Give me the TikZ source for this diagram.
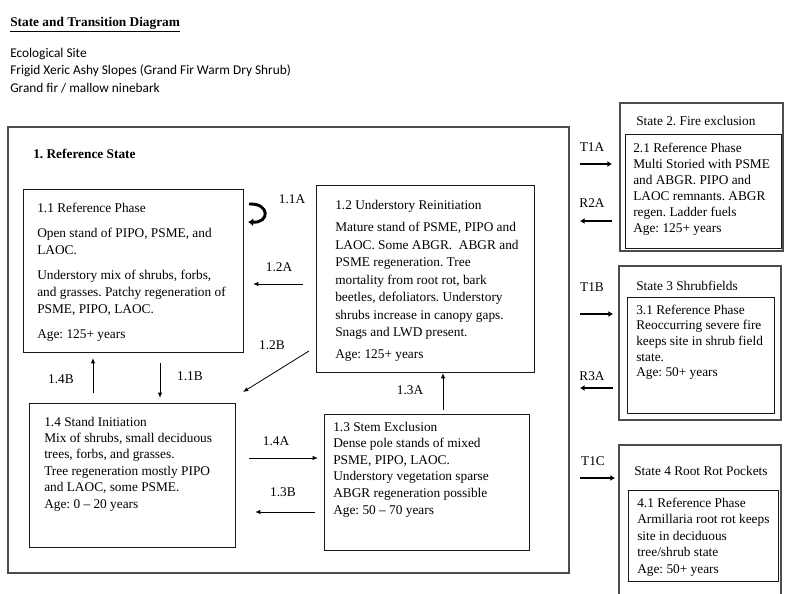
\documentclass[tikz,border=0pt]{standalone}
\usepackage{fontspec}
\setmainfont{Liberation Serif}
\newfontfamily\calibfont{Carlito}
\usetikzlibrary{arrows.meta,fit}
\newcommand\boxtext[2]{\parbox[t]{#1}{\raggedright #2}}
\frenchspacing
\begin{document}
\begin{tikzpicture}[x=0.75pt,y=-0.75pt,
  phase/.style={draw=black!90, line width=0.6pt, inner sep=0pt},
  statebox/.style={draw=black!70, line width=0.8pt, inner sep=0pt},
  txt/.style={anchor=base west, inner sep=0pt},
  lbl/.style={anchor=base, inner sep=0pt, font=\fontsize{10}{12}\selectfont},
  thinarrow/.style={draw=black, line width=0.6pt, -{Latex[length=4pt,width=3.2pt]}},
  thickarrow/.style={draw=black, line width=1.6pt, -{Latex[length=3.5pt,width=4.5pt]}},
]
\useasboundingbox (0,0) rectangle (800,593);

% header
\node[txt, font=\bfseries\fontsize{10}{12}\selectfont] (title) at (10,26) {\underline{State and Transition Diagram}};
\node[txt, font=\calibfont\fontsize{10}{13.4}\selectfont] (site) at (10,57)
  {\boxtext{300pt}{Ecological Site\\Frigid Xeric Ashy Slopes (Grand Fir Warm Dry Shrub)\\Grand fir / mallow ninebark}};

% state 1
\node[statebox, fit={(8,127) (569,573)}] (s1) {};
\node[txt, font=\bfseries\fontsize{10}{12}\selectfont] (s1t) at (33,158) {1. Reference State};

\node[phase, fit={(23,189) (243,352)}] (b11) {};
\node[txt, font=\fontsize{10}{12.75}\selectfont] (t11) at (37,212)
  {\boxtext{200pt}{1.1 Reference Phase\\[6pt]Open stand of PIPO, PSME, and\\LAOC.\\[6pt]Understory mix of shrubs, forbs,\\and grasses. Patchy regeneration of\\PSME, PIPO, LAOC.\\[6pt]Age: 125+ years}};

\node[phase, fit={(316,185) (534,372)}] (b12) {};
\node[txt, font=\fontsize{10}{13.1}\selectfont] (t12) at (335,209)
  {\boxtext{200pt}{1.2 Understory Reinitiation\\[4pt]Mature stand of PSME, PIPO and\\LAOC. Some ABGR.~ ABGR and\\PSME regeneration. Tree\\mortality from root rot, bark\\beetles, defoliators. Understory\\shrubs increase in canopy gaps.\\Snags and LWD present.\\[3.4pt]Age: 125+ years}};

\node[phase, fit={(29,403) (235,547)}] (b14) {};
\node[txt, font=\fontsize{10}{12.3}\selectfont] (t14) at (44,426)
  {\boxtext{200pt}{1.4 Stand Initiation\\Mix of shrubs, small deciduous\\trees, forbs, and grasses.\\Tree regeneration mostly PIPO\\and LAOC, some PSME.\\Age: 0 -- 20 years}};

\node[phase, fit={(324,414) (529,550)}] (b13) {};
\node[txt, font=\fontsize{10}{12.45}\selectfont] (t13) at (333,431)
  {\boxtext{200pt}{1.3 Stem Exclusion\\Dense pole stands of mixed\\PSME, PIPO, LAOC.\\Understory vegetation sparse\\ABGR regeneration possible\\Age: 50 -- 70 years}};

% state 2
\node[statebox, fit={(620,103) (783,251)}] (s2) {};
\node[txt, font=\fontsize{10}{12}\selectfont] (s2t) at (636,125) {State 2. Fire exclusion};
\node[phase, fit={(625,134) (781,248)}] (b21) {};
\node[txt, font=\fontsize{10}{12}\selectfont] (t21) at (633,152)
  {\boxtext{150pt}{2.1 Reference Phase\\Multi Storied with PSME\\and ABGR. PIPO and\\LAOC remnants. ABGR\\regen. Ladder fuels\\Age: 125+ years}};

% state 3
\node[statebox, fit={(619,266) (781,420)}] (s3) {};
\node[txt, font=\fontsize{10}{12}\selectfont] (s3t) at (636,290) {State 3 Shrubfields};
\node[phase, fit={(627,297) (774,413)}] (b31) {};
\node[txt, font=\fontsize{10}{11.8}\selectfont] (t31) at (636,314)
  {\boxtext{150pt}{3.1 Reference Phase\\Reoccurring severe fire\\keeps site in shrub field\\state.\\Age: 50+ years}};

% state 4
\node[statebox, fit={(619,445) (781,605)}] (s4) {};
\node[txt, font=\fontsize{10}{12}\selectfont] (s4t) at (634,475) {State 4 Root Rot Pockets};
\node[phase, fit={(628,490) (778,581)}] (b41) {};
\node[txt, font=\fontsize{10}{12.4}\selectfont] (t41) at (637,507)
  {\boxtext{150pt}{4.1 Reference Phase\\Armillaria root rot keeps\\site in deciduous\\tree/shrub state\\Age: 50+ years}};

% arrow end points
\coordinate (a11s) at (249,204);
\coordinate (a11e) at (248,222);
\coordinate (a12As) at (303,284);
\coordinate (a12Ae) at (253,284);
\coordinate (a12Bs) at (309,351);
\coordinate (a12Be) at (243,392);
\coordinate (a14Bs) at (93,393);
\coordinate (a14Be) at (93,358);
\coordinate (a11Bs) at (160,363);
\coordinate (a11Be) at (160,398);
\coordinate (a13As) at (443,410);
\coordinate (a13Ae) at (443,373);
\coordinate (a14As) at (249,458);
\coordinate (a14Ae) at (318,458);
\coordinate (a13Bs) at (315,512);
\coordinate (a13Be) at (255,512);
\coordinate (t1as) at (580,164);
\coordinate (t1ae) at (612,164);
\coordinate (r2as) at (612,221);
\coordinate (r2ae) at (580,221);
\coordinate (t1bs) at (580,314);
\coordinate (t1be) at (613,314);
\coordinate (r3as) at (613,388);
\coordinate (r3ae) at (580,388);
\coordinate (t1cs) at (580,478);
\coordinate (t1ce) at (615,478);
\coordinate (c1) at (270,203);
\coordinate (c2) at (270,223);

% arrows
\draw[line width=2.2pt, -{Latex[length=4pt,width=6pt]}] (a11s) .. controls (c1) and (c2) .. (a11e);
\draw[thinarrow] (a12As) -- (a12Ae);
\draw[thinarrow] (a12Bs) -- (a12Be);
\draw[thinarrow] (a14Bs) -- (a14Be);
\draw[thinarrow] (a11Bs) -- (a11Be);
\draw[thinarrow] (a13As) -- (a13Ae);
\draw[thinarrow] (a14As) -- (a14Ae);
\draw[thinarrow] (a13Bs) -- (a13Be);
\draw[thickarrow] (t1as) -- (t1ae);
\draw[thickarrow] (r2as) -- (r2ae);
\draw[thickarrow] (t1bs) -- (t1be);
\draw[thickarrow] (r3as) -- (r3ae);
\draw[thickarrow] (t1cs) -- (t1ce);

% labels
\node[lbl] (l11A) at (292,203) {1.1A};
\node[lbl] (l12A) at (279,271) {1.2A};
\node[lbl] (l12B) at (272,349) {1.2B};
\node[lbl] (l14B) at (61,383) {1.4B};
\node[lbl] (l11B) at (190,380) {1.1B};
\node[lbl] (l13A) at (410,394) {1.3A};
\node[lbl] (l14A) at (276,445) {1.4A};
\node[lbl] (l13B) at (283,496) {1.3B};
\node[lbl] (lT1A) at (592,151) {T1A};
\node[lbl] (lR2A) at (592,207) {R2A};
\node[lbl] (lT1B) at (592,291) {T1B};
\node[lbl] (lR3A) at (592,380) {R3A};
\node[lbl] (lT1C) at (593,465) {T1C};
\end{tikzpicture}
\end{document}
